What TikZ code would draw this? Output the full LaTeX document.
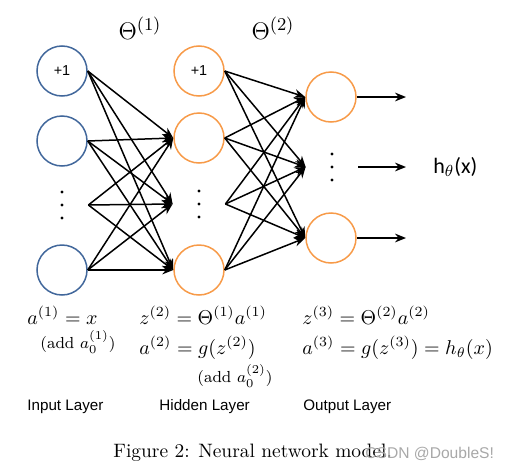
\documentclass[tikz,border=0pt]{standalone}
\usepackage{fontspec}
\usepackage{amsmath}
\newfontfamily\labelfont{Liberation Sans}
\newfontfamily\hfont{Carlito}
\usetikzlibrary{arrows.meta,positioning}
\definecolor{inblue}{HTML}{41679B}
\definecolor{hidorange}{HTML}{F79A48}
\definecolor{markgrey}{HTML}{A8A8A8}
\tikzset{>={Stealth[length=5.5pt,width=4.4pt]},
  neuron/.style={circle,draw,line width=0.75pt,minimum size=25pt,inner sep=0pt,
    font=\labelfont\fontsize{7.2}{8}\selectfont},
  inneuron/.style={neuron,draw=inblue},
  hidneuron/.style={neuron,draw=hidorange},
  dotsnode/.style={circle,minimum size=26pt,inner sep=0pt,
    path picture={\foreach \k in {-1,0,1}
      \fill ([yshift=\k*6.5pt]path picture bounding box.center) circle (0.8pt);}},
  wire/.style={->,line width=0.75pt},
  eqn/.style={anchor=base west,inner sep=0pt,font=\fontsize{10}{12}\selectfont},
  addnote/.style={anchor=base west,inner sep=0pt,font=\fontsize{8}{9}\selectfont},
  layername/.style={anchor=base west,inner sep=0pt,font=\labelfont\fontsize{7.6}{9}\selectfont}}
\begin{document}
\begin{tikzpicture}[x=0.5pt,y=-0.5pt]
  \useasboundingbox (0,0) rectangle (508,471);
  % layers
  \node[inneuron] (in1) at (62,71) {+1};
  \node[inneuron] (in2) at (62,141) {};
  \node[dotsnode] (indots) at (62,205) {};
  \node[inneuron] (in3) at (62,270) {};
  \node[hidneuron] (hid1) at (199,71) {+1};
  \node[hidneuron] (hid2) at (199,138) {};
  \node[dotsnode] (hiddots) at (199,204) {};
  \node[hidneuron] (hid3) at (199,270) {};
  \node[hidneuron] (out1) at (331,97) {};
  \node[dotsnode] (outdots) at (332,167) {};
  \node[hidneuron] (out2) at (331,238) {};
  % weights
  \foreach \s in {in1,in2,indots,in3}
    \foreach \t in {hid2,hiddots,hid3}
      \draw[wire] (\s.east) -- (\t.west);
  \foreach \s in {hid1,hid2,hiddots,hid3}
    \foreach \t in {out1,outdots,out2}
      \draw[wire] (\s.east) -- (\t.west);
  \coordinate (o1) at (406,97);
  \coordinate (o2) at (406,167);
  \coordinate (o3) at (406,238);
  \draw[wire] (out1.east) -- (o1);
  \draw[wire] (outdots.east) -- (o2);
  \draw[wire] (out2.east) -- (o3);
  \node[anchor=west,inner sep=0pt,font=\hfont\fontsize{11}{12}\selectfont] (hout) at (433,167) {h$_\theta$(x)};
  \node[font=\fontsize{13}{15}\selectfont] (theta1) at (140,28) {$\Theta^{(1)}$};
  \node[font=\fontsize{13}{15}\selectfont] (theta2) at (273,28) {$\Theta^{(2)}$};
  % equations
  \node[eqn] (eqa1) at (27,324) {$a^{(1)} = x$};
  \node[addnote] (adda1) at (40,348) {(add $a_0^{(1)}$)};
  \node[eqn] (eqz2) at (139,324) {$z^{(2)} = \Theta^{(1)}a^{(1)}$};
  \node[eqn] (eqa2) at (139,354) {$a^{(2)} = g(z^{(2)})$};
  \node[addnote] (adda2) at (197,382) {(add $a_0^{(2)}$)};
  \node[eqn] (eqz3) at (302,324) {$z^{(3)} = \Theta^{(2)}a^{(2)}$};
  \node[eqn] (eqa3) at (302,354) {$a^{(3)} = g(z^{(3)}) = h_\theta(x)$};
  % layer names
  \node[layername] (inname) at (27,410) {Input Layer};
  \node[layername] (hidname) at (159,410) {Hidden Layer};
  \node[layername] (outname) at (303,410) {Output Layer};
  \node[anchor=base west,inner sep=0pt,font=\fontsize{9.7}{12}\selectfont] (caption) at (113,457) {Figure 2: Neural network model.};
  \node[anchor=base west,inner sep=0pt,text=markgrey,font=\labelfont\fontsize{7.8}{9}\selectfont] (mark) at (365,458) {CSDN @DoubleS!};
\end{tikzpicture}
\end{document}
